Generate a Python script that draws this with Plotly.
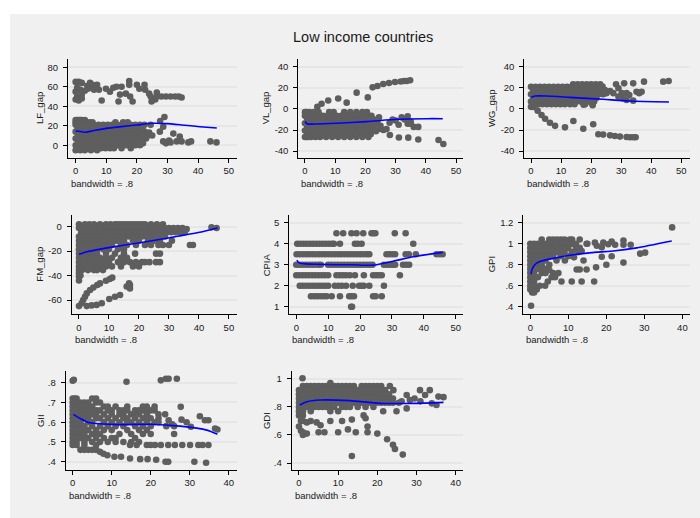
import plotly.graph_objects as go

W, H = 700, 518

# ---------------- DATA ----------------
TITLE = "Low income countries"
NOTE = "bandwidth = .8"
X_TICKS_50 = [0, 10, 20, 30, 40, 50]
X_TICKS_40 = [0, 10, 20, 30, 40]

# LF_gap
LF_rows = [
    (26, [0, 0.5, 1, 1.5, 2, 3]),
    (23.5, [0, 1, 2, 3, 4.5, 5.5, 13, 15.5, 17]),
    (21, [0, 1.5, 3, 4.5, 6, 7.5, 9, 10.5, 12, 13.5, 15, 16.5, 18, 19.5, 21, 22.5]),
    (17.5, [0.75, 2.25, 3.75, 5.25, 6.75, 8.25, 9.75, 11.25, 12.75, 14.25, 15.75, 17.25, 18.75, 20.25, 21.75]),
    (14, [0, 1.5, 3, 4.5, 6, 7.5, 9, 10.5, 12, 13.5, 15, 16.5, 18, 19.5, 21, 22.5]),
    (10.5, [0.75, 2.25, 3.75, 5.25, 6.75, 8.25, 9.75, 11.25, 12.75, 14.25, 15.75, 17.25, 18.75, 20.25, 21.75, 24]),
    (7, [0, 1.5, 3, 4.5, 6, 7.5, 9, 10.5, 12, 13.5, 15, 16.5, 18, 19.5, 21, 23]),
    (3.5, [0.75, 2.25, 3.75, 5.25, 6.75, 8.25, 9.75, 11.25, 12.75, 14.25, 15.75, 17.25, 18.75, 20.25]),
    (0, [0, 1.5, 3, 4.5, 6, 7.5, 9, 10.5, 12, 13.5, 15, 16.5, 18, 19.5, 21]),
    (-3, [0.75, 2.25, 3.75, 5.25, 6.75, 8.25, 9.75, 11.25, 12.5, 15, 18]),
    (-5, [0, 1.5, 3, 5, 7]),
]
LF_extra = [(0, 65), (0.5, 59), (0, 55), (0.5, 50), (0, 47), (1, 46), (1, 65), (2, 64), (1.5, 57),
            (2, 52), (2, 48), (3.8, 61), (3, 56), (4.7, 64), (4, 58), (5.5, 62), (5, 59), (6.5, 60),
            (6, 57), (7.6, 57), (7, 62), (8.5, 46), (9.9, 58), (11.2, 55), (12.3, 59), (13.3, 60),
            (14, 45), (14.5, 52), (15, 60), (16.4, 53), (17.5, 66), (17.5, 62), (17.8, 50), (18.6, 45),
            (20, 62), (20.8, 58), (22.5, 62), (22.7, 57), (24, 53), (24.5, 50), (24.8, 45), (26, 47),
            (26.5, 54), (26.5, 50), (28, 50), (29.5, 50), (31, 50), (32.5, 50), (33.7, 50), (34.6, 49),
            (23, 9), (24, 13), (25, 10), (27.5, 14), (28.6, 19), (29, 29), (27.6, 25), (28.6, 4),
            (29.5, 2), (30.5, 5), (31, 3), (31.9, 12), (33, 4), (34, 9), (34.6, 4), (36.8, 3),
            (37.7, 4), (44, 4), (46, 3), (24.5, 21), (22, 2), (21.5, 17)]
LF_fit_x = [0, 1.5, 3.3, 6, 10, 15, 20, 25.4, 29.7, 34.6, 40.6, 46.1]
LF_fit_y = [14.7, 14.2, 13.4, 15.2, 17.4, 19.2, 20.9, 22.6, 22.2, 20.9, 19.1, 17.8]
LF_yticks = [0, 20, 40, 60, 80]
LF_ylabels = ["0", "20", "40", "60", "80"]

# VL_gap
VL_rows = [
    (-3, [0, 0.5, 1.5, 3, 4.5, 8, 9.5, 13, 15, 17, 19, 20.5]),
    (-6.5, [0, 1.5, 3, 4.5, 6, 7.5, 9, 10.5, 12, 13.5, 15, 16.5, 18, 19.5, 21, 22]),
    (-10, [0.75, 2.25, 3.75, 5.25, 6.75, 8.25, 9.75, 11.25, 12.75, 14.25, 15.75, 17.25, 18.75, 20.25, 21.75]),
    (-13.5, [0, 1.5, 3, 4.5, 6, 7.5, 9, 10.5, 12, 13.5, 15, 16.5, 18, 19.5, 21, 22.5]),
    (-17, [0.75, 2.25, 3.75, 5.25, 6.75, 8.25, 9.75, 11.25, 12.75, 14.25, 15.75, 17.25, 18.75, 20.25, 21.75, 23]),
    (-20.5, [0, 1.5, 3, 4.5, 6, 7.5, 9, 10.5, 12, 13.5, 15, 16.5, 18, 19.5, 21, 22.5]),
    (-24, [0.75, 2.25, 3.75, 5.25, 6.75, 8.25, 9.75, 11.25, 12.75, 14.25, 15.75, 17.25, 18.75, 20.25, 21.75]),
    (-26.5, [0, 0.5, 1, 2, 3.5, 5, 7, 9, 11, 13, 15, 17, 19, 21]),
]
VL_extra = [(4.1, 2), (5.5, 5), (7.7, 8), (11, 10), (13.8, 6), (17.1, 15.5), (20.8, 11), (22.4, 20.5),
            (24, 21.8), (25.9, 23.7), (27.8, 24.7), (29.8, 25.6), (31.7, 26), (32.8, 26.5), (33.7, 26.6),
            (34.8, 27.2), (28.1, -24.7), (31.1, -27), (34.2, -27.2), (37.5, -29), (44.2, -29.4),
            (45.8, -33.2), (23, -10), (24, -13), (25, -16), (26, -20), (27, -19), (28, -13), (29, -10),
            (30, -11), (31, -15), (32, -8), (33, -10), (34, -7), (34, -14), (35, -12), (36, -17),
            (37.5, -17), (35, -14), (25, -19), (23.5, -21), (24.5, -8)]
VL_fit_x = [0, 0.8, 3, 10.4, 20.4, 30.4, 40.3, 45.6]
VL_fit_y = [-12, -14.2, -14.3, -13.6, -12, -9.8, -9.2, -9.2]
VL_yticks = [-40, -20, 0, 20, 40]
VL_ylabels = ["-40", "-20", "0", "20", "40"]

# WG_gap
WG_rows = [
    (23.5, [14, 15.5, 17, 18.5, 20, 21.5, 23]),
    (21, [0, 1.5, 3, 4.5, 6, 7.5, 9, 10.5, 12, 13.5, 15, 16.5, 18, 19.5, 21, 22.5]),
    (17.5, [0.75, 2.25, 3.75, 5.25, 6.75, 8.25, 9.75, 11.25, 12.75, 14.25, 15.75, 17.25, 18.75, 20.25, 21.75, 23.25]),
    (14, [0, 1.5, 3, 4.5, 6, 7.5, 9, 10.5, 12, 13.5, 15, 16.5, 18, 19.5, 21, 22.5, 24]),
    (10.5, [0.75, 2.25, 3.75, 5.25, 6.75, 8.25, 9.75, 11.25, 12.75, 14.25, 15.75, 17.25, 18.75, 20.25, 21.75]),
    (7, [0, 1.5, 3, 4.5, 6, 7.5, 9, 10.5, 12, 13.5, 15, 16.5, 18, 19.5, 21]),
    (4.5, [0.75, 2.25, 3.75, 5.25, 6.75, 8.25, 9.75, 11.25, 13, 14.5, 18, 20.5]),
    (2, [0, 0.5, 1]),
]
WG_extra = [(2.2, -1.6), (3.5, -5.7), (4.7, -9.2), (6.3, -13), (8, -16), (11.3, -17.4), (14.1, -11.4),
            (17.4, -18.7), (20.7, -14.5), (22.4, -24), (24, -24.3), (26.3, -25), (27.9, -25.6),
            (29.6, -26.2), (31.8, -26.6), (32.9, -26.8), (34, -26.8), (34.8, -26.8),
            (23.8, 21.2), (24.6, 18), (25.1, 15), (26.3, 17), (27.4, 15), (28.3, 23.4), (29.1, 19.6),
            (30.2, 15), (31, 24.3), (31.8, 15), (32.7, 13.3), (34, 24.3), (34, 7.9), (35.1, 16.4),
            (36, 15), (36.8, 16.4), (37.6, 25.9), (44, 25.9), (45.8, 26.6), (30.7, 10), (29.1, 11.7),
            (31.8, 8.5), (20.5, 3.5), (17.5, 4)]
WG_fit_x = [0, 1.3, 5, 13, 24, 33, 45.9]
WG_fit_y = [11, 12.3, 12.3, 11, 9.2, 7.6, 6.6]
WG_yticks = [-40, -20, 0, 20, 40]
WG_ylabels = ["-40", "-20", "0", "20", "40"]

# FM_gap
FM_rows = [
    (2, [0, 2, 3.5, 5, 7, 9, 10.5, 12, 13, 14, 15, 16, 17, 18, 19, 20, 21, 22, 24, 26, 28]),
    (-1, [0, 1.5, 3, 4.5, 6, 7.5, 9, 10.5, 12, 13.5, 15, 16.5, 18, 19.5, 21, 22.5, 24, 25.5, 27, 28.5, 30, 31.5, 33, 34.5]),
    (-4.5, [0.75, 2.25, 3.75, 5.25, 6.75, 8.25, 9.75, 11.25, 12.75, 14.25, 15.75, 17.25, 18.75, 20.25, 21.75, 23.25, 24.75, 26.25, 27.75, 29.25, 30.75, 32.25, 33.75, 35.25]),
    (-8, [0, 1.5, 3, 4.5, 6, 7.5, 9, 10.5, 12, 13.5, 15, 16.5, 18, 19.5, 21, 22.5, 24, 25.5, 27, 28.7]),
    (-11.5, [0, 1, 2, 3, 4, 5, 6, 8, 10, 12, 13, 15, 18, 20, 23, 25, 27, 31]),
    (-15, [0, 1, 2, 3, 5, 7, 9, 11, 14, 16, 19, 22, 24, 26.5, 28, 30, 37, 38]),
    (-18.5, [0, 1, 2, 3, 4, 6, 8, 10, 13, 15]),
    (-22, [0, 1, 2, 3, 4, 5, 6, 9, 12, 15, 18.7, 25.7, 27]),
    (-25.5, [0, 1, 2, 3, 4, 5, 7, 9, 11, 14, 16]),
    (-29, [0, 1, 2, 4, 6, 8, 10, 13, 15, 17, 19, 21, 22, 23.5, 25.7, 27]),
    (-32.5, [0, 1, 2, 3, 5, 7, 9, 11, 14, 18, 20]),
    (-35.5, [0, 1, 3, 5, 6, 8]),
]
FM_extra = [(0, -38), (0, -41), (0, -44), (0.5, -40), (0, -65), (0.9, -62.7), (1.4, -60), (2, -57.3),
            (2.6, -54.6), (3.7, -51.8), (4.8, -49.7), (6.1, -47.7), (9, -44.2), (10.3, -42.8),
            (11.1, -41.7), (2.6, -65), (4.2, -64.4), (5.9, -64), (7.6, -62.7), (10.1, -59.2),
            (12, -57.3), (13.7, -55.9), (15.9, -49), (17, -47.7), (17, -50.5), (16.7, -46.4),
            (7, -46.4), (44.2, -0.5), (45.9, -1.1), (35.9, -2)]
FM_fit_x = [0, 2.6, 10.3, 20.3, 30.3, 40.3, 46.2]
FM_fit_y = [-22.6, -20.5, -16.9, -13.1, -9, -4.6, -1.1]
FM_yticks = [-60, -40, -20, 0]
FM_ylabels = ["-60", "-40", "-20", "0"]

# CPIA
CP_rows = [
    (4.5, [12.6, 14.7, 17.3, 18.9, 21, 23.6, 24.2, 24.8, 30.9, 34.3]),
    (4.0, [0.3, 1.3, 2.3, 3.3, 4.3, 5.3, 6.3, 7.3, 8.3, 9.3, 10.3, 11.3, 11.8, 13.7, 18.4, 19.3, 20.5, 36.7]),
    (3.5, [0.1, 1.1, 2.1, 3.1, 4.1, 5.1, 6.1, 7.1, 8.1, 9.1, 10.1, 11.1, 12.1, 13.1, 14.1, 15.1, 16.1, 17.1,
           18.1, 19.1, 20.1, 21.1, 22.1, 22.9, 28.3, 29.2, 30.1, 31, 34.3, 35.3, 37.5, 44, 45, 45.9]),
    (3.0, [0, 1, 2, 3, 4, 5, 6, 7, 7.7, 10, 11, 12, 13, 14, 15, 16, 17, 18, 19, 20, 21, 22, 23, 23.9,
           27.5, 28.5, 29.5, 30.3, 31, 33.5, 34.5, 35.4]),
    (2.5, [0, 1, 2, 3, 4, 5, 6, 7, 8, 9, 10, 12.6, 13.6, 14.6, 15.6, 16.8, 18.4, 21.2, 24.1, 25, 25.9,
           26.8, 32.5]),
    (2.0, [1.1, 2, 3, 4, 5, 6, 7, 8, 9, 10, 12.1, 13.2, 14.3, 15.6, 17.7, 19.7, 20.5, 21.2, 22.9, 27.5]),
    (1.5, [4.6, 5.6, 6.6, 7.6, 8.6, 9.5, 11.1, 13.7, 16.6, 17.3, 18.1, 24.1, 24.9, 26.8]),
    (1.0, [17.2, 17.5]),
]
CP_extra = []
CP_fit_x = [0.2, 0.6, 1.1, 3, 7, 12, 18, 24.1, 30.4, 36.7, 45.9]
CP_fit_y = [3.22, 3.12, 3.08, 3.04, 3.02, 3.0, 3.0, 2.98, 3.17, 3.38, 3.59]
CP_yticks = [1, 2, 3, 4, 5]
CP_ylabels = ["1", "2", "3", "4", "5"]

# GPI
GPI_rows = [
    (1.04, [3, 5, 6, 7, 8, 9, 10.4, 11, 13]),
    (1.00, [0, 1, 2, 3, 4, 5, 6, 7, 8, 9, 10, 11, 12, 14.8, 15]),
    (0.96, [0, 1, 2, 3, 4, 5, 6, 7, 8, 9, 10, 12, 13]),
    (0.92, [0, 1, 2, 3, 4, 5, 6, 7, 8, 9, 10.9, 12.6]),
    (0.88, [0, 1, 2, 3, 4, 5, 6, 8, 10]),
    (0.84, [0, 1, 2, 3, 4, 6.9, 9.1, 14]),
    (0.80, [0, 0.5, 1, 2, 3, 5]),
    (0.76, [0, 0.5, 1, 2, 3, 4]),
    (0.72, [0, 0.5, 1, 3, 4, 7.4]),
    (0.68, [0, 0.5, 1, 2, 5.6, 6.5]),
    (0.64, [0, 0.5, 1, 4.6, 8.2, 10.9, 13.5, 16.8]),
    (0.60, [0, 0.5, 1, 2.5, 3.9]),
    (0.565, [0, 0.5, 1, 1.7]),
    (0.535, [0.5, 1]),
]
GPI_extra = [(0.2, 0.41), (12.2, 0.755), (13, 0.755), (14.8, 0.755), (17.3, 0.775), (20, 0.80),
             (18.8, 0.875), (21.4, 0.88), (24.5, 0.82), (28.9, 0.905), (30.2, 0.915), (37.3, 1.155),
             (17, 1.01), (17.5, 0.98), (18.8, 0.965), (19.2, 1.01), (20.5, 0.995), (21.4, 1.02),
             (22.3, 0.99), (24.5, 1.03), (24.5, 0.99), (26.4, 0.99), (13.5, 0.93), (11.5, 0.87),
             (6, 0.72), (5, 0.75)]
GPI_fit_x = [0.2, 0.4, 0.8, 1.5, 2.5, 6, 10.4, 17.5, 21.8, 28, 37.2]
GPI_fit_y = [0.711, 0.75, 0.78, 0.81, 0.83, 0.86, 0.89, 0.92, 0.93, 0.96, 1.025]
GPI_yticks = [0.4, 0.6, 0.8, 1.0, 1.2]
GPI_ylabels = [".4", ".6", ".8", "1", "1.2"]

# GII
GII_rows = [
    (0.72, [0, 0.5, 1, 5, 6]),
    (0.70, [0, 1, 2, 3, 4, 6, 7]),
    (0.68, [0, 1, 2, 3, 4, 5, 8, 9, 11, 14, 18, 19, 21]),
    (0.66, [0, 1, 2, 3, 4, 5, 6, 7, 9, 10, 12, 13, 14, 16, 17, 18, 19, 20, 21]),
    (0.64, [0, 1, 2, 3, 4, 5, 6, 8, 10, 12, 13, 15, 16, 17, 19, 22]),
    (0.62, [0, 1, 2, 3, 4, 6, 7, 9, 11, 13, 14, 16, 18, 19, 20, 22]),
    (0.60, [0, 1, 2, 4, 5, 8, 10, 12, 14, 15, 17, 19, 21]),
    (0.58, [0, 1, 2, 3, 5, 7, 9, 11, 13, 16, 18, 20, 24, 26]),
    (0.56, [0, 1, 2, 3, 4, 6, 8, 10, 14, 17, 19]),
    (0.54, [0, 1, 2, 3, 5, 6, 7, 12, 15, 18, 20, 26]),
    (0.52, [0, 1, 2, 3, 4, 6, 8, 10, 11, 16]),
    (0.50, [0, 1, 3, 5, 7, 9, 11, 13, 15, 17]),
    (0.485, [0, 1, 3, 6, 14.7, 16.4, 19, 20, 21.1, 22.6, 24.5, 26.2, 28.1, 30.1, 32.2, 33.3, 34.8]),
    (0.46, [2, 3, 4, 5, 6]),
]
GII_extra = [(0, 0.81), (0.3, 0.815), (13.8, 0.805), (22.6, 0.812), (23.9, 0.82), (24.6, 0.82),
             (26.7, 0.82), (7, 0.45), (7.9, 0.44), (8.9, 0.433), (10.7, 0.425), (12.4, 0.425),
             (14.7, 0.416), (17.3, 0.413), (19.2, 0.413), (21.4, 0.41), (23.8, 0.40), (24.5, 0.40),
             (31.2, 0.40), (34.2, 0.395), (23.7, 0.64), (24.6, 0.61), (27.7, 0.678), (27.9, 0.613),
             (29.2, 0.60), (30.3, 0.577), (32.6, 0.63), (33.9, 0.61), (34.8, 0.61), (36.5, 0.568),
             (37.1, 0.563), (25.5, 0.59), (22, 0.60)]
GII_fit_x = [0.2, 1.9, 4.4, 12, 19.8, 27.5, 34.4, 37.1]
GII_fit_y = [0.64, 0.619, 0.597, 0.588, 0.59, 0.58, 0.56, 0.539]
GII_yticks = [0.4, 0.5, 0.6, 0.7, 0.8]
GII_ylabels = [".4", ".5", ".6", ".7", ".8"]

# GDI
GDI_rows = [
    (0.95, [1, 2, 3, 4, 5, 6, 7, 8, 9, 10, 11, 12, 13, 14, 16, 17, 18, 19, 20, 21, 23.2]),
    (0.92, [0, 1, 2, 3, 4, 5, 6, 7, 8, 9, 10, 11, 12, 13, 14, 15, 16, 17, 18, 19, 20, 21, 22, 24.1]),
    (0.89, [0, 1, 2, 3, 4, 5, 6, 7, 8, 9, 10, 11, 12, 13, 14, 15, 16, 17, 18, 19, 20, 21, 22, 23]),
    (0.86, [0, 1, 2, 3, 4, 5, 6, 7, 8, 9, 10, 11, 12, 13, 14, 15, 16, 17, 18, 19, 20, 21, 22, 23, 24]),
    (0.83, [0, 1, 2, 3, 4, 5, 6, 7, 8, 9, 10, 11, 12, 13, 14, 15, 16, 17, 18, 19, 20, 21, 22, 23, 24]),
    (0.80, [0, 1, 2, 3, 4, 5, 6, 7, 8, 9, 11, 12, 13, 15, 17, 19]),
    (0.77, [0, 1, 3, 8, 10, 21.5, 24.9]),
    (0.74, [0, 0.5, 1]),
    (0.70, [0.5, 1]),
]
GDI_extra = [(0.9, 1.005), (8, 0.97), (0, 0.66), (0.5, 0.63), (1, 0.62), (1, 0.60), (2, 0.61), (2, 0.69),
             (3, 0.70), (4.5, 0.69), (5, 0.62), (5.5, 0.67), (6.5, 0.62), (8, 0.70), (10, 0.62),
             (11, 0.70), (12.5, 0.64), (13.5, 0.71), (13.5, 0.45), (14.5, 0.62), (16.5, 0.74),
             (17, 0.72), (17.5, 0.66), (17.5, 0.62), (20, 0.61), (22.5, 0.57), (24, 0.53),
             (24.5, 0.50), (26.5, 0.46), (27.5, 0.886), (26.2, 0.84), (28.3, 0.85), (29.5, 0.86),
             (30.9, 0.92), (32.2, 0.886), (33.4, 0.92), (33.9, 0.826), (35.1, 0.814), (35.6, 0.874),
             (36.9, 0.87), (27.5, 0.79), (25.5, 0.83), (31, 0.84)]
GDI_fit_x = [0.2, 2, 5.4, 13, 20.7, 29.2, 36.9]
GDI_fit_y = [0.814, 0.838, 0.85, 0.845, 0.826, 0.826, 0.833]
GDI_yticks = [0.4, 0.6, 0.8, 1.0]
GDI_ylabels = [".4", ".6", ".8", "1"]

# ---------------- LAYOUT (pixel geometry) ----------------
panels = [
    ("LF_gap", LF_rows, LF_extra, LF_fit_x, LF_fit_y, LF_yticks, LF_ylabels, X_TICKS_50,
     (68, 237, 59, 158), (-2.5, 52.7), (-13.0, 88.5), 39.5),
    ("VL_gap", VL_rows, VL_extra, VL_fit_x, VL_fit_y, VL_yticks, VL_ylabels, X_TICKS_50,
     (298.3, 462.7, 59, 157.7), (-2.2, 52.2), (-46.2, 47.4), 265),
    ("WG_gap", WG_rows, WG_extra, WG_fit_x, WG_fit_y, WG_yticks, WG_ylabels, X_TICKS_50,
     (524.3, 690, 59, 157.7), (-2.23, 52.9), (-46.2, 47.4), 491.7),
    ("FM_gap", FM_rows, FM_extra, FM_fit_x, FM_fit_y, FM_yticks, FM_ylabels, X_TICKS_50,
     (71.7, 236.7, 215, 314.3), (-2.43, 52.6), (-71.7, 9.6), 40),
    ("CPIA", CP_rows, CP_extra, CP_fit_x, CP_fit_y, CP_yticks, CP_ylabels, X_TICKS_50,
     (289.3, 462.7, 215, 314.3), (-2.19, 52.2), (0.64, 5.37), 266.7),
    ("GPI", GPI_rows, GPI_extra, GPI_fit_x, GPI_fit_y, GPI_yticks, GPI_ylabels, X_TICKS_40,
     (523.3, 690, 215, 314.3), (-1.84, 42.0), (0.328, 1.273), 491.7),
    ("GII", GII_rows, GII_extra, GII_fit_x, GII_fit_y, GII_yticks, GII_ylabels, X_TICKS_40,
     (65.7, 237.3, 370.7, 470), (-1.79, 42.2), (0.358, 0.861), 40.7),
    ("GDI", GDI_rows, GDI_extra, GDI_fit_x, GDI_fit_y, GDI_yticks, GDI_ylabels, X_TICKS_40,
     (291.7, 462.7, 370.7, 470), (-1.86, 41.8), (0.35, 1.059), 266.7),
]

FONT = "Liberation Sans, Arial, sans-serif"
TXT = "#1a1a1a"
MARK = "#5e5e5e"
GRID = "#e6e6e6"
FS = 9.5

fig = go.Figure()
layout = dict(
    width=W, height=H, margin=dict(l=0, r=0, t=0, b=0),
    paper_bgcolor="white", plot_bgcolor="white", showlegend=False,
    font=dict(family=FONT, size=FS, color=TXT),
)
annotations = []
shapes = [dict(type="rect", xref="paper", yref="paper", x0=10 / W, x1=1, y0=0, y1=1 - 14 / H,
               fillcolor="#f0f0f0", line=dict(width=0), layer="below")]

for i, (name, rows, extra, fx, fy, ytv, ytt, xtv, box, xr, yr, tx) in enumerate(panels):
    k = "" if i == 0 else str(i + 1)
    xs, ys = [], []
    for yv, xlist in rows:
        for xv in xlist:
            xs.append(xv)
            ys.append(yv)
    for xv, yv in extra:
        xs.append(xv)
        ys.append(yv)
    fig.add_trace(go.Scatter(x=xs, y=ys, mode="markers", xaxis="x" + k, yaxis="y" + k,
                             marker=dict(size=6.6, color=MARK, line=dict(width=0)),
                             cliponaxis=False, hoverinfo="skip"))
    fig.add_trace(go.Scatter(x=fx, y=fy, mode="lines", xaxis="x" + k, yaxis="y" + k,
                             line=dict(color="#0000ff", width=1.6, shape="spline", smoothing=0.6),
                             hoverinfo="skip"))
    l, r, t, b = box
    layout["xaxis" + k] = dict(
        domain=[l / W, r / W], range=list(xr), anchor="y" + k,
        tickvals=xtv, ticks="outside", ticklen=4, tickcolor="#000", tickwidth=1,
        showline=True, linecolor="#000", linewidth=1, showgrid=False, zeroline=False,
        tickfont=dict(size=FS, color=TXT, family=FONT), fixedrange=True)
    layout["yaxis" + k] = dict(
        domain=[1 - b / H, 1 - t / H], range=list(yr), anchor="x" + k,
        tickvals=ytv, ticktext=ytt, ticks="outside", ticklen=4, tickcolor="#000", tickwidth=1,
        showline=True, linecolor="#000", linewidth=1, showgrid=True, gridcolor=GRID, gridwidth=1.5,
        zeroline=False, tickfont=dict(size=FS, color=TXT, family=FONT), fixedrange=True,
        ticklabelstandoff=3)
    annotations.append(dict(text=name, xref="paper", yref="paper", x=tx / W, y=1 - (t + b) / 2 / H,
                            textangle=-90, showarrow=False, xanchor="center", yanchor="middle",
                            font=dict(size=FS, color=TXT, family=FONT)))
    annotations.append(dict(text=NOTE, xref="paper", yref="paper", x=(l + 1) / W, y=1 - (b + 25.5) / H,
                            showarrow=False, xanchor="left", yanchor="middle",
                            font=dict(size=FS, color=TXT, family=FONT)))

annotations.append(dict(text=TITLE, xref="paper", yref="paper", x=363 / W, y=1 - 37 / H,
                        showarrow=False, xanchor="center", yanchor="middle",
                        font=dict(size=14.5, color=TXT, family=FONT)))
layout["annotations"] = annotations
layout["shapes"] = shapes
fig.update_layout(**layout)
fig.write_html("out.html", config={"displayModeBar": False},
               post_script="document.body.style.margin='0';document.body.style.overflow='hidden';")
